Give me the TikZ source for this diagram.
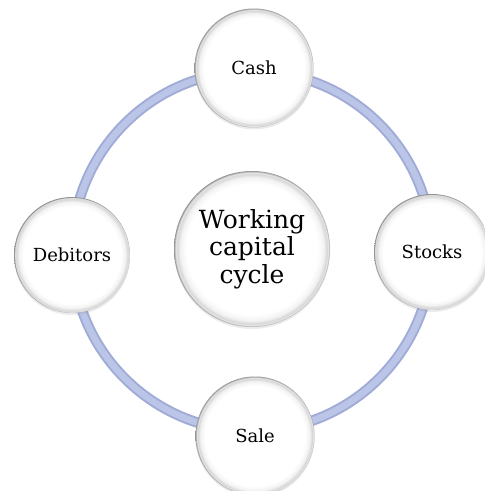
\documentclass[tikz,border=0pt]{standalone}
\usepackage{fontspec}
\setmainfont{DejaVu Serif}
\usetikzlibrary{shadows}

% glossy white button: white face, faint inner rim, thin grey outline
\pgfdeclareradialshading{buttonface}{\pgfpoint{0bp}{0bp}}{%
  color(0bp)=(white);
  color(21bp)=(white);
  color(23bp)=(black!5);
  color(24bp)=(black!16);
  color(24.5bp)=(black!9);
  color(25bp)=(black!42);
  color(50bp)=(black!42)}

\definecolor{ringedge}{RGB}{160,172,214}
\definecolor{ringfill}{RGB}{186,197,231}

\tikzset{
  button/.style={circle, inner sep=0pt, minimum size=#1,
    shading=buttonface, align=center,
    drop shadow={opacity=0.15, shadow xshift=0pt, shadow yshift=-2pt}},
  ringouter/.style={draw=ringedge, line width=10.5pt},
  ringinner/.style={draw=ringfill, line width=6.5pt},
  smalltext/.style={font=\fontsize{18}{21}\selectfont},
  bigtext/.style={font=\fontsize{25}{27.5}\selectfont}
}

\begin{document}
\begin{tikzpicture}[x=1pt,y=-1pt]
  \useasboundingbox (0,0) rectangle (485,491);

  % cycle ring behind the stages
  \coordinate (hub) at (252,251);
  \draw[ringouter] (hub) circle (180);
  \draw[ringinner] (hub) circle (180);

  % centre button
  \node[button=156pt, bigtext] (centre) at (252,249) {Working\\capital\\cycle};

  % the four stages
  \node[button=119pt, smalltext] (cash)     at (254,68)  {Cash};
  \node[button=116pt, smalltext] (stocks)   at (432,252) {Stocks};
  \node[button=119pt, smalltext] (sale)     at (255,436) {Sale};
  \node[button=116pt, smalltext] (debitors) at (72,255)  {Debitors};
\end{tikzpicture}
\end{document}
